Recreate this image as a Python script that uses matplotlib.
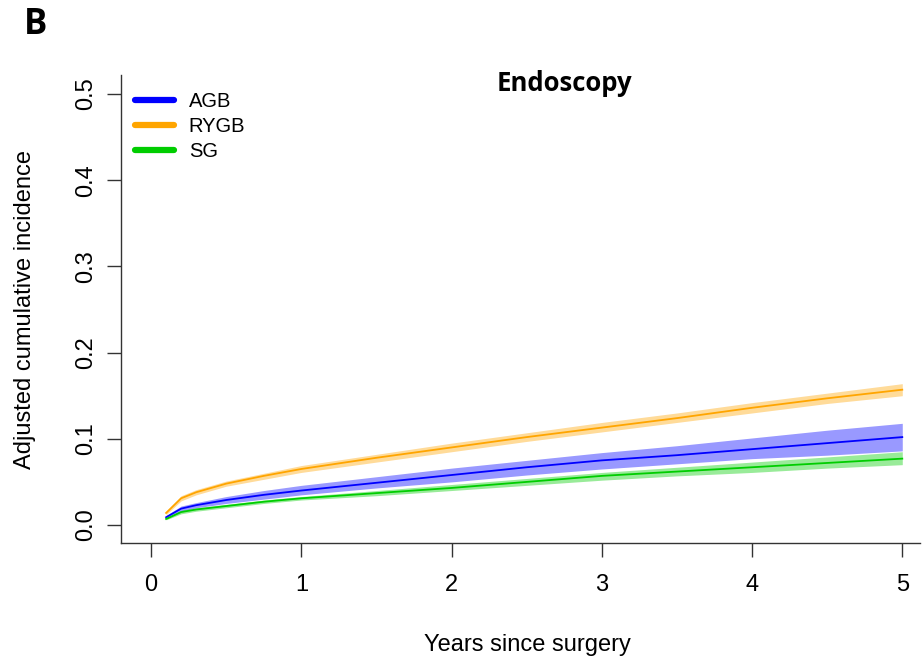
import numpy as np
import matplotlib.pyplot as plt

# years since surgery
years = [0.1, 0.2, 0.3, 0.5, 0.75, 1.0, 1.5, 2.0, 2.5, 3.0, 3.5, 4.0, 4.5, 5.0]

# adjusted cumulative incidence (point estimate, lower, upper)
agb = [0.009, 0.019, 0.023, 0.029, 0.035, 0.040, 0.049, 0.058, 0.067, 0.075, 0.081, 0.088, 0.095, 0.102]
agb_lo = [0.007, 0.016, 0.020, 0.025, 0.030, 0.035, 0.043, 0.050, 0.058, 0.065, 0.071, 0.077, 0.081, 0.086]
agb_hi = [0.011, 0.022, 0.026, 0.033, 0.040, 0.046, 0.056, 0.066, 0.075, 0.084, 0.092, 0.101, 0.110, 0.118]

rygb = [0.014, 0.031, 0.038, 0.048, 0.057, 0.065, 0.078, 0.090, 0.102, 0.113, 0.124, 0.136, 0.147, 0.157]
rygb_lo = [0.012, 0.028, 0.035, 0.045, 0.053, 0.061, 0.073, 0.085, 0.097, 0.108, 0.119, 0.130, 0.141, 0.150]
rygb_hi = [0.016, 0.034, 0.041, 0.051, 0.060, 0.069, 0.082, 0.095, 0.107, 0.119, 0.130, 0.142, 0.153, 0.164]

sg = [0.007, 0.015, 0.018, 0.022, 0.027, 0.031, 0.037, 0.043, 0.050, 0.057, 0.062, 0.067, 0.072, 0.077]
sg_lo = [0.006, 0.013, 0.016, 0.020, 0.025, 0.029, 0.034, 0.040, 0.046, 0.052, 0.057, 0.061, 0.066, 0.070]
sg_hi = [0.008, 0.017, 0.020, 0.024, 0.029, 0.033, 0.040, 0.047, 0.054, 0.061, 0.067, 0.073, 0.079, 0.085]

labels = ['AGB', 'RYGB', 'SG']
colors = ['#0000FF', '#FFA500', '#00CD00']

plt.rcParams['font.family'] = ['Liberation Sans', 'DejaVu Sans']

fig = plt.figure(figsize=(9.24, 6.59), dpi=100)
ax = fig.add_axes([0.131, 0.176, 0.865, 0.710])

series = [(agb, agb_lo, agb_hi), (rygb, rygb_lo, rygb_hi), (sg, sg_lo, sg_hi)]
for (est, lo, hi), lab, col in zip(series, labels, colors):
    ax.fill_between(years, lo, hi, color=col, alpha=0.4, lw=0)
    ax.plot(years, est, color=col, lw=1.3)

# legend handles drawn thick like R's lwd
handles = [plt.Line2D([], [], color=c, lw=4.5, solid_capstyle='round') for c in colors]
ax.legend(handles, labels, loc='upper left', bbox_to_anchor=(0.018, 0.964), frameon=False,
          fontsize=14.5, handlelength=1.9, handletextpad=0.75, labelspacing=0.3,
          borderaxespad=0, borderpad=0)

ax.set_xlim(-0.2, 5.12)
ax.set_ylim(-0.0209, 0.522)
ax.set_xticks([0, 1, 2, 3, 4, 5])
ax.set_yticks([0.0, 0.1, 0.2, 0.3, 0.4, 0.5])
ax.set_yticklabels(['0.0', '0.1', '0.2', '0.3', '0.4', '0.5'], rotation=90, va='center')
ax.tick_params(axis='both', direction='out', length=10, width=1, labelsize=17, colors='#333333',
               labelcolor='black')
ax.tick_params(axis='x', pad=12)
ax.tick_params(axis='y', pad=7)

for s in ['top', 'right']:
    ax.spines[s].set_visible(False)
for s in ['left', 'bottom']:
    ax.spines[s].set_color('#333333')
    ax.spines[s].set_linewidth(1)

ax.set_xlabel('Years since surgery', fontsize=17, va='center')
ax.xaxis.set_label_coords(0.508, -0.218)
ax.set_ylabel('Adjusted cumulative incidence', fontsize=17, va='center')
ax.yaxis.set_label_coords(-0.120, 0.5)

fig.text(0.611, 0.873, 'Endoscopy', fontsize=18.5, fontweight='bold', family='Open Sans',
         ha='center', va='center')
fig.text(0.038, 0.962, 'B', fontsize=25, fontweight='bold', family='Open Sans',
         ha='center', va='center')

fig.savefig('out.png', dpi=100)
